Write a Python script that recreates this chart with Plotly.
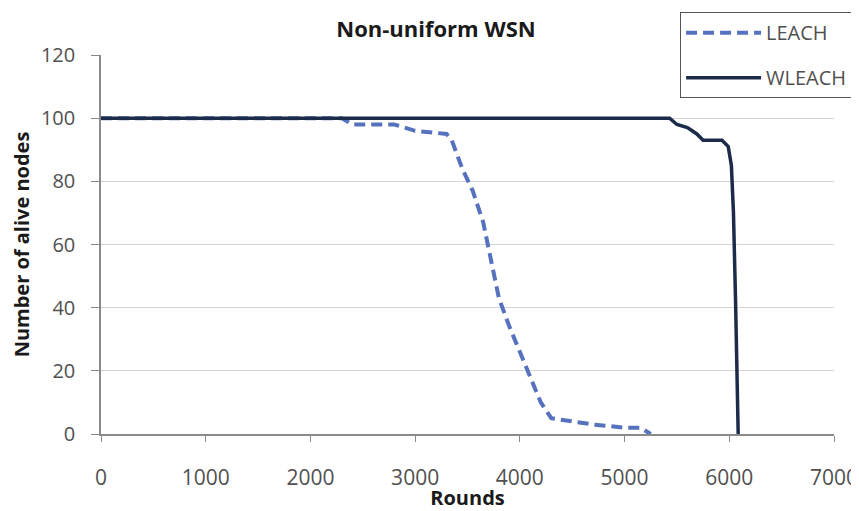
import plotly.graph_objects as go

# rounds / alive nodes
leach_rounds = [0, 2300, 2400, 2800, 3000, 3300, 3350, 3450, 3550, 3650, 3700, 3800,
                3900, 4000, 4100, 4200, 4300, 4500, 4700, 5000, 5150, 5250]
leach_alive = [100, 100, 98, 98, 96, 95, 93, 84, 77, 67, 59, 43,
               34, 26, 18, 10, 5, 4, 3, 2, 2, 0]

wleach_rounds = [0, 5430, 5500, 5600, 5690, 5750, 5930, 5990, 6020, 6040, 6060, 6085]
wleach_alive = [100, 100, 98, 97, 95, 93, 93, 91, 85, 70, 42, 0]

x_ticks = [0, 1000, 2000, 3000, 4000, 5000, 6000, 7000]
y_ticks = [0, 20, 40, 60, 80, 100, 120]

font = "Open Sans, Lato, sans-serif"

fig = go.Figure()
fig.add_trace(go.Scatter(x=leach_rounds, y=leach_alive, mode="lines", name="LEACH",
                         legendgroup="a",
                         line=dict(color="#5671BD", width=4, dash="11px,6px")))
fig.add_trace(go.Scatter(x=wleach_rounds, y=wleach_alive, mode="lines", name="WLEACH",
                         legendgroup="b",
                         line=dict(color="#1C2B4A", width=3.5)))

# page body has an 8px margin, so the figure is a bit smaller than the window
fig.update_layout(
    width=851, height=503,
    paper_bgcolor="white", plot_bgcolor="white",
    margin=dict(l=93, r=25, t=47, b=77, autoexpand=False),
    font=dict(family=font, color="#505050", size=20),
    title=dict(text="<b>Non-uniform WSN</b>", x=0.457, xref="paper", y=0.972, yref="container",
               xanchor="center", yanchor="top",
               font=dict(size=22, color="#1a1a1a", family=font)),
    legend=dict(x=0.79, y=1.113, xanchor="left", yanchor="top",
                bordercolor="#555555", borderwidth=1, bgcolor="white",
                itemwidth=75, tracegroupgap=16, font=dict(size=20, color="#505050")),
    showlegend=True,
)
fig.update_xaxes(range=[0, 7000], tickvals=x_ticks, showgrid=False, zeroline=False,
                 automargin=False,
                 showline=True, linecolor="#8a8a8a", linewidth=1.5,
                 ticks="outside", ticklen=6, tickcolor="#8a8a8a", ticklabelstandoff=18,
                 tickfont=dict(size=21),
                 title=dict(text="<b>Rounds</b>", standoff=0,
                            font=dict(size=20, color="#1a1a1a")))
fig.update_yaxes(range=[0, 120], tickvals=y_ticks, showgrid=True, gridcolor="#d4d4d4",
                 automargin=False,
                 zeroline=False, showline=True, linecolor="#8a8a8a", linewidth=1.5,
                 ticks="outside", ticklen=8, tickcolor="#8a8a8a", ticklabelstandoff=12,
                 title=dict(text="<b>Number of alive nodes</b>", standoff=12,
                            font=dict(size=20, color="#1a1a1a")))

fig.write_html("out.html")
